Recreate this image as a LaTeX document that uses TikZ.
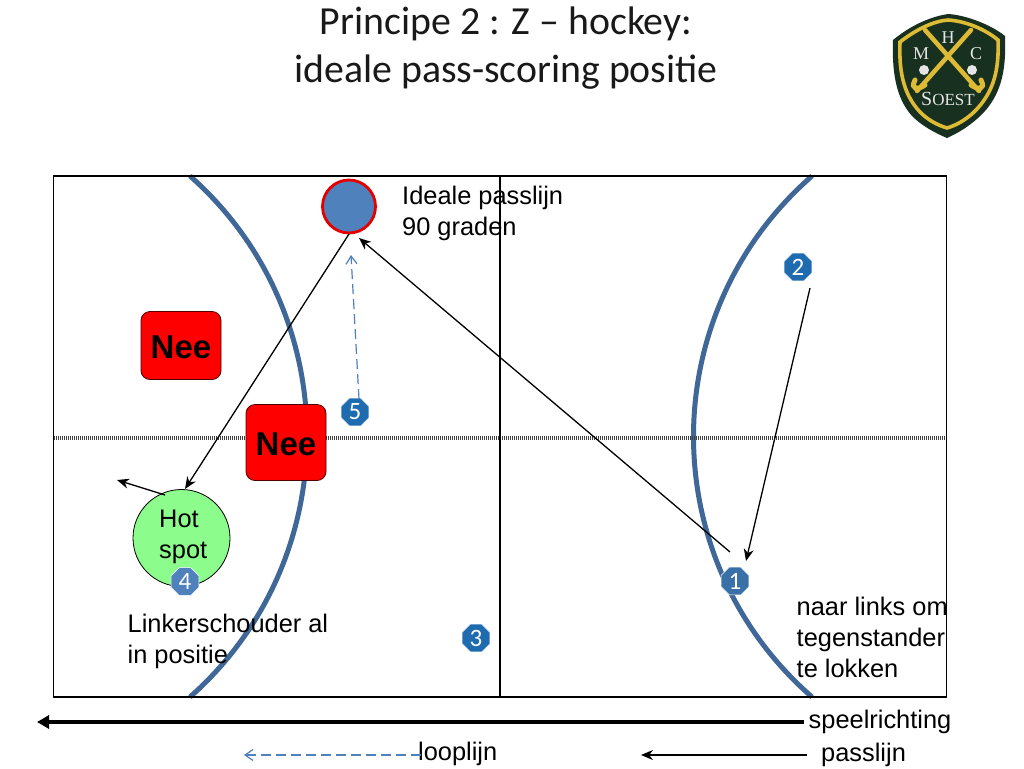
\documentclass[tikz,border=0pt]{standalone}
\usepackage{fontspec}
\setmainfont{Liberation Sans}
\newfontfamily\titlefont{Carlito}
\newfontfamily\logofont{Liberation Serif}
\usetikzlibrary{shapes.geometric,arrows.meta}
\definecolor{arcblue}{HTML}{3F6797}
\definecolor{dotblue}{HTML}{4F81BD}
\definecolor{octblue}{HTML}{1F6BB0}
\definecolor{octmid}{HTML}{3A70A8}
\definecolor{hotgreen}{HTML}{8CFC8C}
\definecolor{logogreen}{HTML}{17301F}
\definecolor{logoyellow}{HTML}{DDBB35}
\tikzset{
 x=1pt,y=-1pt,
 lab/.style={font=\fontsize{25.4}{31}\selectfont,align=left,inner sep=0pt,anchor=west},
 oct/.style={regular polygon,regular polygon sides=8,fill=#1,draw=white,line width=0.5pt,minimum size=30pt,inner sep=0pt,text=white,font=\titlefont\fontsize{25}{25}\selectfont},
 oct/.default=octblue,
 nee/.style={rectangle,rounded corners=9pt,fill=red,draw=black!70!red,line width=0.8pt,font=\bfseries\fontsize{33}{33}\selectfont},
 pass/.style={-{Stealth[length=12pt,width=10pt]},line width=1.3pt,black},
 run/.style={-{Straight Barb[length=8pt,width=11pt]},dash pattern=on 10pt off 5pt,line width=1.2pt,dotblue},
 arcline/.style={arcblue,line width=5pt},
 lg/.style={logoyellow,line width=#1},
 ltext/.style={text=white!90!black,font=\logofont\fontsize{#1}{#1}\selectfont,inner sep=0pt}
}
\begin{document}
\begin{tikzpicture}
\useasboundingbox (0,0) rectangle (1024,768);
\fill[white] (0,0) rectangle (1024,768);
% title
\node[font=\titlefont\fontsize{39.8}{48}\selectfont,align=center,text=black!90] (title) at (506,48) {Principe 2 : Z – hockey:\\ideale pass-scoring positie};
% field arcs
\coordinate (alt) at (190,176); \coordinate (alb) at (190,697);
\coordinate (art) at (812,176); \coordinate (arb) at (812,697);
\draw[arcline] (alt) .. controls (346,314) and (346,559) .. (alb);
\draw[arcline] (art) .. controls (654,314) and (654,559) .. (arb);
% field
\coordinate (fml) at (54,438); \coordinate (fmr) at (946,438);
\draw[black!75,line width=3.2pt,dash pattern=on 1pt off 1pt] (fml) -- (fmr);
\coordinate (fct) at (500,176); \coordinate (fcb) at (500,697);
\draw[black,line width=1.2pt] (fct) -- (fcb);
\node[draw=black,line width=1.8pt,minimum width=893pt,minimum height=521pt,inner sep=0pt] (field) at (500,436.5) {};
% hot spot
\node[circle,fill=hotgreen,draw=black,line width=0.8pt,minimum size=97pt,inner sep=0pt] (hot) at (181.5,538) {};
\node[font=\fontsize{25.4}{31}\selectfont,align=center,inner sep=0pt] (hottext) at (179,536.5) {Hot\\ \,\,spot};
% target
\node[circle,fill=dotblue,draw=red!90!black,line width=2.8pt,minimum size=53pt,inner sep=0pt] (target) at (349,206.5) {};
% nee
\node[nee,minimum width=80pt,minimum height=68pt] (nee1) at (181,345.5) {\raisebox{-2pt}[\height][\depth]{Nee}};
\node[nee,minimum width=80pt,minimum height=76pt] (nee2) at (286,442.5) {\raisebox{-2pt}[\height][\depth]{Nee}};
% players
\node[oct=octmid] (p1) at (735,581) {1};
\node[oct] (p2) at (798,267) {2};
\node[oct] (p3) at (476,638) {3};
\node[oct=dotblue] (p4) at (185,581.5) {4};
\node[oct] (p5) at (355,412) {5};
% connectors
\coordinate (a2s) at (810,288); \coordinate (a2e) at (746,561);
\draw[pass] (a2s) -- (a2e);
\coordinate (a1s) at (730,552); \coordinate (a1e) at (359,238);
\draw[pass] (a1s) -- (a1e);
\coordinate (a5s) at (359,399); \coordinate (a5e) at (351,255);
\draw[run] (a5s) -- (a5e);
\coordinate (tgt) at (349,234); \coordinate (hotin) at (185,489);
\draw[pass] (tgt) -- (hotin);
\coordinate (hs) at (165,495); \coordinate (he) at (117,480);
\draw[pass] (hs) -- (he);
% labels
\node[lab] (l1) at (402,213) {Ideale passlijn\\90 graden};
\node[lab] (l2) at (127.5,641) {Linkerschouder al\\in positie};
\node[lab] (l3) at (796.5,637.5) {naar links om\\tegenstander\\te lokken};
% legend
\node[lab] (speel) at (808.5,722) {speelrichting};
\node[lab] (loop) at (418,754) {looplijn};
\node[lab] (passl) at (821,755) {passlijn};
\coordinate (arr1) at (37,722);
\draw[-{Triangle[length=12pt,width=13pt]},line width=4pt,black] (speel.west) ++(-5,0) -- (arr1);
\coordinate (arr2) at (244,755);
\draw[run] (loop.west) ++(3,1) -- (arr2);
\coordinate (arr3) at (641,755); \coordinate (arr3s) at (807,755);
\draw[pass] (arr3s) -- (arr3);
% logo
\fill[logogreen] (893,40) .. controls (915,22) and (935,16) .. (948,14) .. controls (965,15) and (990,24) .. (1005,36) .. controls (1006,65) and (1004,95) .. (978,118) .. controls (968,127) and (958,133) .. (947,138) .. controls (935,133) and (922,126) .. (912,116) .. controls (895,97) and (892,70) .. (893,40) -- cycle;
\draw[lg=3.6pt] (900,42) .. controls (918,28) and (935,21) .. (948,20) .. controls (965,21) and (985,29) .. (998,40) .. controls (999,68) and (995,92) .. (973,113) .. controls (965,120) and (957,125) .. (947,128) .. controls (937,125) and (928,120) .. (920,112) .. controls (902,93) and (899,68) .. (900,42) -- cycle;
\draw[lg=4.5pt,line cap=round] (925,30) -- (979,91);
\draw[lg=4.5pt,line cap=round] (971,30) -- (917,91);
\draw[lg=5pt,line cap=round] (915,80) .. controls (910,90) and (918,90) .. (925,85);
\draw[lg=5pt,line cap=round] (981,80) .. controls (986,90) and (978,90) .. (971,85);
\fill[white!90!black] (924,70) circle (5pt) (972,70) circle (5pt);
\node[ltext=18] (lh) at (948,38) {H};
\node[ltext=18] (lm) at (921,54) {M};
\node[ltext=18] (lc) at (976,54) {C};
\node[ltext=20] (ls) at (948,99) {S\fontsize{17}{17}\selectfont OEST};
\end{tikzpicture}
\end{document}
